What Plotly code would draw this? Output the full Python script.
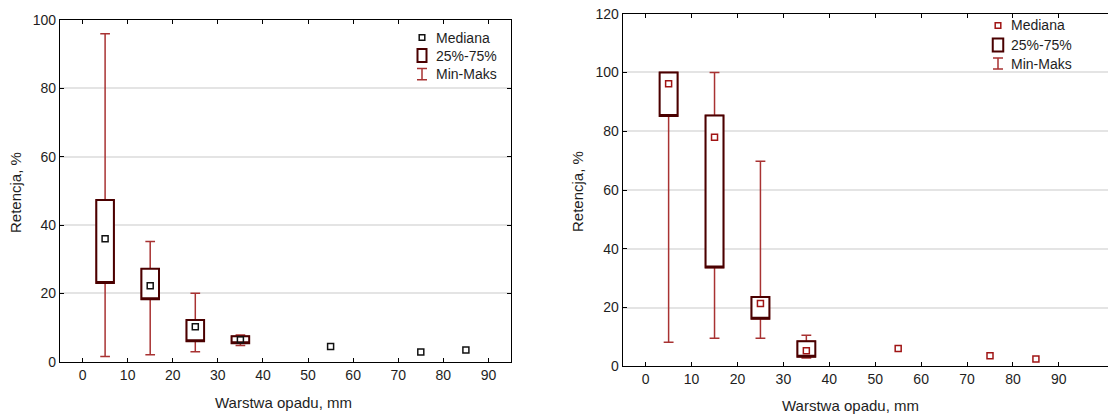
import plotly.graph_objects as go

W, H = 1108, 414

# ---------------- data ----------------
box_x = [5, 15, 25, 35]
L_min = [1.5, 2.0, 2.9, 4.7]
L_q1 = [23.0, 18.3, 6.0, 5.4]
L_med = [36.0, 22.2, 10.2, 6.4]
L_q3 = [47.3, 27.2, 12.2, 7.4]
L_max = [96.0, 35.2, 20.0, 7.8]
R_min = [8.2, 9.6, 9.6, 2.8]
R_q1 = [85.2, 33.6, 16.2, 3.3]
R_med = [96.2, 78.0, 21.4, 5.3]
R_q3 = [100.0, 85.4, 23.6, 8.5]
R_max = [100.0, 100.0, 69.8, 10.6]
single_x = [55, 75, 85]
L_single = [4.4, 2.8, 3.4]
R_single = [6.1, 3.6, 2.5]

x_ticks = [0, 10, 20, 30, 40, 50, 60, 70, 80, 90]
L_yticks = [0, 20, 40, 60, 80, 100]
R_yticks = [0, 20, 40, 60, 80, 100, 120]

WHISK = "#a83232"
BOX = "#4a0000"
FONT = "Liberation Sans, Arial, sans-serif"
TXT = "#1e1e1e"

fig = go.Figure()


def add_panel(xa, ya, mn, q1, med, q3, mx, single, medcolor):
    fig.add_trace(go.Box(
        x=box_x, q1=q1, median=q1, q3=q3, lowerfence=mn, upperfence=mx,
        width=3.9, whiskerwidth=0.55, fillcolor="white",
        line=dict(color=WHISK, width=1.5), boxpoints=False,
        xaxis=xa, yaxis=ya, showlegend=False, hoverinfo="skip"))
    fig.add_trace(go.Box(
        x=box_x, q1=q1, median=q1, q3=q3, lowerfence=q1, upperfence=q3,
        width=3.9, whiskerwidth=0, fillcolor="white",
        line=dict(color=BOX, width=2), boxpoints=False,
        xaxis=xa, yaxis=ya, showlegend=False, hoverinfo="skip"))
    fig.add_trace(go.Scatter(
        x=box_x + single_x, y=med + single, mode="markers",
        marker=dict(symbol="square-open", size=6, color=medcolor,
                    line=dict(width=1.5, color=medcolor)),
        xaxis=xa, yaxis=ya, showlegend=False, hoverinfo="skip"))


add_panel("x", "y", L_min, L_q1, L_med, L_q3, L_max, L_single, "#111111")
add_panel("x2", "y2", R_min, R_q1, R_med, R_q3, R_max, R_single, "#a01414")


def px2x(x):
    return x / W


def px2y(y):
    # compensate the vertical scaling observed in the captured page
    yf = (y - 8.6) / 0.958
    return 1 - yf / H


axis_common = dict(
    showline=True, linecolor="black", linewidth=1.2,
    ticks="inside", ticklen=4, tickcolor="black", tickwidth=1,
    zeroline=False,
    tickfont=dict(family=FONT, size=14, color=TXT),
)

fig.update_layout(
    width=W, height=H, autosize=False,
    margin=dict(l=0, r=0, t=0, b=0, pad=0),
    paper_bgcolor="white", plot_bgcolor="white",
    boxmode="overlay",
    xaxis=dict(domain=[px2x(60), px2x(511)], range=[-5, 95], tickvals=x_ticks,
               showgrid=False, mirror="ticks", anchor="y", **axis_common),
    yaxis=dict(domain=[px2y(361), px2y(20.7)], range=[0, 100], tickvals=L_yticks,
               showgrid=True, gridcolor="#e4e4e4", gridwidth=2,
               mirror="ticks", anchor="x", **axis_common),
    xaxis2=dict(domain=[px2x(622.7), 1.0], range=[-5, 100.7], tickvals=x_ticks,
                showgrid=False, mirror="ticks", anchor="y2", **axis_common),
    yaxis2=dict(domain=[px2y(365.7), px2y(14.3)], range=[0, 120], tickvals=R_yticks,
                showgrid=True, gridcolor="#e4e4e4", gridwidth=2,
                mirror=False, anchor="x2", **axis_common),
)

annotations = []
shapes = []


def text(x, y, s, size=14, angle=0, xanchor="left"):
    annotations.append(dict(
        x=px2x(x), y=px2y(y), xref="paper", yref="paper", text=s,
        showarrow=False, xanchor=xanchor, yanchor="middle", textangle=angle,
        font=dict(family=FONT, size=size, color=TXT)))


text(15, 193, "Retencja, %", size=15, angle=-90, xanchor="center")
text(283, 402, "Warstwa opadu, mm", size=15, xanchor="center")
text(577, 192, "Retencja, %", size=15, angle=-90, xanchor="center")
text(850, 404.5, "Warstwa opadu, mm", size=15, xanchor="center")


def legend(mx, y1, y2, y3, tx, medcolor, bw):
    shapes.append(dict(type="rect", xref="paper", yref="paper",
                       x0=px2x(mx - 2.8), x1=px2x(mx + 2.8),
                       y0=px2y(y1 + 2.8), y1=px2y(y1 - 2.8),
                       line=dict(color=medcolor, width=1.5), fillcolor="white"))
    shapes.append(dict(type="rect", xref="paper", yref="paper",
                       x0=px2x(mx - bw / 2), x1=px2x(mx + bw / 2),
                       y0=px2y(y2 + 6.5), y1=px2y(y2 - 6.5),
                       line=dict(color=BOX, width=2), fillcolor="white"))
    shapes.append(dict(type="path", xref="paper", yref="paper",
                       path=("M {a},{t} L {b},{t} M {c},{t} L {c},{bo} M {a},{bo} L {b},{bo}"
                             .format(a=px2x(mx - 5), b=px2x(mx + 5), c=px2x(mx),
                                     t=px2y(y3 - 5.5), bo=px2y(y3 + 5.5))),
                       line=dict(color=WHISK, width=1.5)))
    text(tx, y1, "Mediana")
    text(tx, y2, "25%-75%")
    text(tx, y3, "Min-Maks")


legend(422, 38, 56, 74.5, 434, "#111111", 9)
legend(998, 26, 45.5, 64, 1009, "#a01414", 10.5)

fig.update_layout(annotations=annotations, shapes=shapes)

POST = (
    "document.documentElement.style.cssText='margin:0;padding:0;overflow:hidden;height:414px;';"
    "document.body.style.cssText='margin:0;padding:0;overflow:hidden;height:414px;';"
    "var g=document.getElementById('{plot_id}');"
    "g.style.position='fixed';g.style.top='0px';g.style.left='0px';"
)

fig.write_html("out.html", config={"displayModeBar": False}, post_script=POST)
